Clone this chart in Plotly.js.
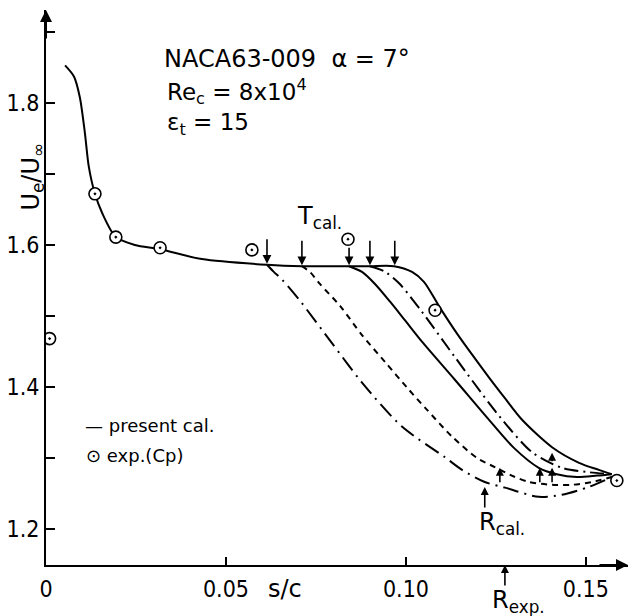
<!DOCTYPE html>
<html>
<head>
<meta charset="utf-8">
<script src="https://cdn.plot.ly/plotly-3.0.1.min.js"></script>
<style>html,body{margin:0;padding:0;background:#fff;}</style>
</head>
<body>
<div id="chart" style="width:635px;height:616px;"></div>
<script>
// ---- data ----
// main calculated curve (solid), continuing into the latest-transition branch
const mainX = [0.0053, 0.0078, 0.0094, 0.0108, 0.0119, 0.0136, 0.0156, 0.0194, 0.0247, 0.0317, 0.0433, 0.0614, 0.0711, 0.0842, 0.0900, 0.0967, 0.1017, 0.1050, 0.1094, 0.1142, 0.1183, 0.1231, 0.1275, 0.1322, 0.1406, 0.1481, 0.1536, 0.1572];
const mainY = [1.853, 1.837, 1.808, 1.758, 1.710, 1.672, 1.645, 1.611, 1.600, 1.594, 1.580, 1.572, 1.570, 1.570, 1.570, 1.570, 1.562, 1.548, 1.512, 1.475, 1.446, 1.413, 1.384, 1.354, 1.315, 1.293, 1.283, 1.277];
// branch 1 (long dash-dot), transition at s/c = 0.0614
const c1X = [0.0614, 0.0633, 0.0656, 0.0703, 0.0794, 0.0878, 0.0989, 0.1108, 0.1156, 0.1219, 0.1275, 0.1369, 0.1433, 0.1508, 0.1572];
const c1Y = [1.572, 1.562, 1.551, 1.523, 1.462, 1.406, 1.344, 1.301, 1.283, 1.266, 1.258, 1.245, 1.248, 1.259, 1.273];
// branch 2 (dashed), transition at s/c = 0.0711
const c2X = [0.0711, 0.0733, 0.0761, 0.0817, 0.0878, 0.0942, 0.1003, 0.1058, 0.1128, 0.1197, 0.1247, 0.1294, 0.1342, 0.1406, 0.1461, 0.1517, 0.1572];
const c2Y = [1.570, 1.562, 1.545, 1.514, 1.473, 1.435, 1.399, 1.368, 1.330, 1.300, 1.287, 1.275, 1.266, 1.262, 1.262, 1.266, 1.273];
// branch 3 (solid), transition at s/c = 0.0842
const c3X = [0.0842, 0.0878, 0.0914, 0.0956, 0.0997, 0.1044, 0.1136, 0.1225, 0.1300, 0.1369, 0.1419, 0.1475, 0.1531, 0.1572];
const c3Y = [1.570, 1.562, 1.545, 1.520, 1.494, 1.464, 1.410, 1.357, 1.314, 1.286, 1.277, 1.273, 1.275, 1.277];
// branch 4 (dash-dot), transition at s/c = 0.0900
const c4X = [0.0900, 0.0939, 0.0981, 0.1044, 0.1136, 0.1231, 0.1267, 0.1350, 0.1433, 0.1503, 0.1572];
const c4Y = [1.570, 1.563, 1.546, 1.506, 1.442, 1.377, 1.354, 1.308, 1.286, 1.280, 1.277];
// experiment (Cp)
const expX = [0.001, 0.0136, 0.0194, 0.0317, 0.0572, 0.0839, 0.1081, 0.1586];
const expY = [1.468, 1.672, 1.611, 1.596, 1.593, 1.608, 1.508, 1.268];
// transition (T cal.) arrows, reattachment (R cal.) arrows, experimental reattachment
const tcalX = [0.0614, 0.0711, 0.0842, 0.0900, 0.0969];
const tcalY = [1.572, 1.570, 1.570, 1.570, 1.570];
const rcalX = [0.1219, 0.1261, 0.1372, 0.1406, 0.1406];
const rcalY = [1.259, 1.286, 1.286, 1.286, 1.307];
const rexpX = 0.1275;
// ticks
const xTickVals = [0, 0.05, 0.10, 0.15];
const xTickText = ['0', '0.05', '0.10', '0.15'];
const yTickVals = [1.2, 1.4, 1.6, 1.8];
const yTickText = ['1.2', '1.4', '1.6', '1.8'];

const K = 'black';
const LW = 2;
function curve(x, y, dash, w) {
  return {x: x, y: y, type: 'scatter', mode: 'lines', hoverinfo: 'skip',
    line: {color: K, width: w || LW, dash: dash, shape: 'spline', smoothing: 0.8}};
}
const traces = [
  curve(mainX, mainY, 'solid'),
  curve(c3X, c3Y, 'solid'),
  curve(c4X, c4Y, '14px,5px,2px,5px'),
  curve(c2X, c2Y, '6px,5px'),
  curve(c1X, c1Y, '16px,6px,2px,6px'),
  {x: expX, y: expY, type: 'scatter', mode: 'markers', hoverinfo: 'skip',
   marker: {symbol: 'circle-dot', size: 12, color: 'white', line: {color: K, width: 1.6}}}
];

const TF = 'DejaVu Sans, Liberation Sans, sans-serif';
const ann = [];
// T cal arrows (pointing down)
tcalX.forEach((x, i) => ann.push({x: x, y: tcalY[i], xref: 'x', yref: 'y', text: '', showarrow: true,
  arrowhead: 2, arrowsize: 1.1, arrowwidth: 1.6, arrowcolor: K, ax: 0, ay: (i === 2 ? -20 : -27), standoff: 1}));
// R cal arrows (pointing up)
const rLen = [22, 16, 16, 16, 10];
rcalX.forEach((x, i) => ann.push({x: x, y: rcalY[i], xref: 'x', yref: 'y', text: '', showarrow: true,
  arrowhead: 2, arrowsize: 1.0, arrowwidth: 1.6, arrowcolor: K, ax: 0, ay: rLen[i], standoff: 0}));
// R exp arrow
ann.push({x: rexpX, y: 0, xref: 'x', yref: 'paper', text: '', showarrow: true,
  arrowhead: 2, arrowsize: 1.0, arrowwidth: 1.6, arrowcolor: K, ax: 0, ay: 22, standoff: 0});
// axis arrows
ann.push({x: 0, y: 1.0, xref: 'paper', yref: 'paper', text: '', showarrow: true,
  arrowhead: 2, arrowsize: 1.2, arrowwidth: 2, arrowcolor: K, ax: 0, ay: 30, standoff: 0});
ann.push({x: 1.0, y: 0, xref: 'paper', yref: 'paper', text: '', showarrow: true,
  arrowhead: 2, arrowsize: 1.2, arrowwidth: 2, arrowcolor: K, ax: -30, ay: 0, standoff: 0});
// labels
function lab(text, x, y, size, xa, xref, yref) {
  return {text: text, x: x, y: y, xref: xref || 'paper', yref: yref || 'paper', showarrow: false,
    xanchor: xa || 'left', yanchor: 'middle', font: {family: TF, size: size, color: K}};
}
ann.push(lab('NACA63-009  α = 7°', 0.199, 0.912, 24));
ann.push(lab('Re<sub>c</sub> = 8x10<sup>4</sup>', 0.204, 0.853, 23));
ann.push(lab('ε<sub>t</sub> = 15', 0.204, 0.794, 23));
ann.push(lab('T<sub>cal.</sub>', 0.076, 1.638, 24, 'center', 'x', 'y'));
ann.push(lab('R<sub>cal.</sub>', 0.1267, 1.208, 24, 'center', 'x', 'y'));
ann.push(lab('R<sub>exp.</sub>', 0.1312, -0.066, 24, 'center', 'x', 'paper'));
ann.push(lab('— present cal.', 0.064, 0.252, 18));
ann.push(lab('⊙ exp.(Cp)', 0.066, 0.198, 18));
ann.push(lab('s/c', 0.411, -0.043, 24, 'center'));
ann.push({text: 'U<sub>e</sub>/U<sub>∞</sub>', x: -0.024, y: 0.70, xref: 'paper', yref: 'paper', showarrow: false,
  textangle: -90, xanchor: 'center', yanchor: 'middle', font: {family: TF, size: 24, color: K}});

const tickFont = {family: 'Liberation Sans Narrow, DejaVu Sans Condensed, Arial Narrow, sans-serif', size: 23, color: K};
const layout = {
  width: 635, height: 616,
  margin: {l: 46, r: 7, t: 10, b: 51, pad: 0},
  paper_bgcolor: 'white', plot_bgcolor: 'white',
  showlegend: false,
  xaxis: {range: [0, 0.1617], tickmode: 'array', tickvals: xTickVals, ticktext: xTickText,
    ticks: 'inside', ticklen: 8, tickwidth: 1.5, tickcolor: K, showgrid: false, zeroline: false,
    showline: true, linecolor: K, linewidth: 2, tickfont: tickFont, ticklabelstandoff: 2, fixedrange: true},
  yaxis: {range: [1.149, 1.931], tickmode: 'array', tickvals: yTickVals, ticktext: yTickText,
    ticks: 'inside', ticklen: 9, tickwidth: 1.5, tickcolor: K, showgrid: false, zeroline: false,
    showline: true, linecolor: K, linewidth: 2, tickfont: tickFont, ticklabelstandoff: 0,
    minor: {tickmode: 'linear', tick0: 1.1, dtick: 0.1, ticks: 'inside', ticklen: 9, tickwidth: 1.5, tickcolor: K, showgrid: false},
    fixedrange: true},
  annotations: ann
};
Plotly.newPlot('chart', traces, layout, {displayModeBar: false, staticPlot: true});
</script>
</body>
</html>
